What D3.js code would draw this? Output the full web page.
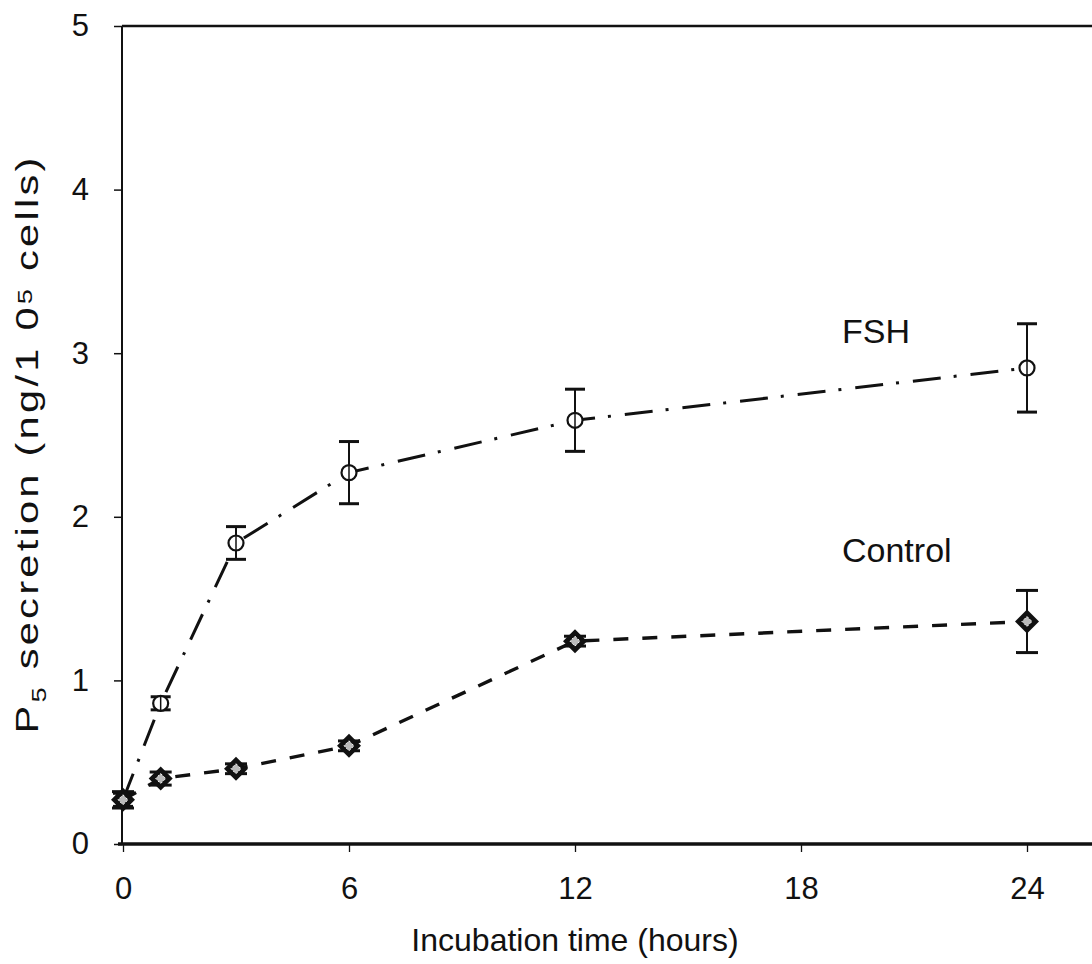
<!DOCTYPE html>
<html>
<head>
<meta charset="utf-8">
<script src="https://cdn.jsdelivr.net/npm/d3@7"></script>
<style>
  html, body { margin: 0; padding: 0; background: #fff; }
  svg { display: block; }
  text { font-family: "Liberation Sans", Arial, Helvetica, sans-serif; fill: #111; }
</style>
</head>
<body>
<svg id="chart" width="1092" height="964"></svg>
<script>
// ---- data ----
const times = [0, 1, 3, 6, 12, 24];
const fshMean = [0.27, 0.86, 1.84, 2.27, 2.59, 2.91];
const fshErr = [0.04, 0.04, 0.10, 0.19, 0.19, 0.27];
const ctrlMean = [0.27, 0.40, 0.46, 0.60, 1.24, 1.36];
const ctrlErr = [0.05, 0.04, 0.03, 0.03, 0.03, 0.19];
const xTicks = [0, 6, 12, 18, 24];
const yTicks = [0, 1, 2, 3, 4, 5];
const seriesLabels = ["FSH", "Control"];
const xTitle = "Incubation time (hours)";

(function () {
// ---- layout ----
const svg = d3.select("#chart");
const W = 1092, H = 964;
const x = d3.scaleLinear().domain([0, 24]).range([123, 1027]);
const y = d3.scaleLinear().domain([0, 5]).range([844, 26]);
const pLeft = 122, pTop = 26, pBottom = 844, pRight = W + 5;
const FONT = "'Liberation Sans', Arial, sans-serif";

// frame
svg.append("line").attr("x1", pLeft).attr("x2", pRight).attr("y1", pTop).attr("y2", pTop)
  .attr("stroke", "#111").attr("stroke-width", 2.5);
svg.append("line").attr("x1", pLeft).attr("x2", pLeft).attr("y1", pTop).attr("y2", pBottom)
  .attr("stroke", "#111").attr("stroke-width", 2);
svg.append("line").attr("x1", pLeft - 4).attr("x2", pRight).attr("y1", pBottom).attr("y2", pBottom)
  .attr("stroke", "#111").attr("stroke-width", 3.5);

// y axis
const yAxis = svg.append("g").attr("transform", `translate(${pLeft},0)`)
  .call(d3.axisLeft(y).tickValues(yTicks).tickSize(8).tickSizeOuter(0).tickPadding(25).tickFormat(d3.format("d")));
yAxis.select(".domain").remove();
yAxis.selectAll(".tick line").attr("stroke", "#111").attr("stroke-width", 1.5);
yAxis.selectAll(".tick text").attr("font-size", 31).attr("fill", "#111").style("font-family", FONT);

// x axis
const xAxis = svg.append("g").attr("transform", `translate(0,${pBottom})`)
  .call(d3.axisBottom(x).tickValues(xTicks).tickSize(8).tickSizeOuter(0).tickFormat(d3.format("d")));
xAxis.select(".domain").remove();
xAxis.selectAll(".tick line").attr("stroke", "#111").attr("stroke-width", 1.3);
xAxis.selectAll(".tick text").attr("font-size", 31).attr("fill", "#111")
  .attr("y", 55).attr("dy", 0).style("font-family", FONT);

// axis titles
svg.append("text").attr("x", 575).attr("y", 951).attr("text-anchor", "middle")
  .attr("font-size", 32).text(xTitle);

const yt = svg.append("text").attr("transform", "translate(38,444) rotate(-90) scale(1.3,1)")
  .attr("text-anchor", "middle").attr("font-size", 32).attr("letter-spacing", 2.5);
yt.append("tspan").text("P");
yt.append("tspan").attr("font-size", 21).attr("dy", 8).text("5");
yt.append("tspan").attr("dy", -8).text(" secretion (ng/1 0");
yt.append("tspan").attr("font-size", 21).attr("dy", -6).text("5");
yt.append("tspan").attr("dy", 6).text(" cells)");

// ---- series ----
const fsh = times.map((t, i) => ({ t, m: fshMean[i], e: fshErr[i] }));
const ctrl = times.map((t, i) => ({ t, m: ctrlMean[i], e: ctrlErr[i] }));
const line = d3.line().x(d => x(d.t)).y(d => y(d.m));

svg.append("path").datum(ctrl).attr("d", line).attr("fill", "none")
  .attr("stroke", "#111").attr("stroke-width", 3.4).attr("stroke-dasharray", "15,14");
svg.append("path").datum(fsh).attr("d", line).attr("fill", "none")
  .attr("stroke", "#111").attr("stroke-width", 3).attr("stroke-dasharray", "28,13,3,14");

function errorBars(data, cap) {
  const g = svg.append("g").attr("stroke", "#111").attr("stroke-width", 2);
  g.selectAll(".v").data(data).join("line")
    .attr("x1", d => x(d.t)).attr("x2", d => x(d.t))
    .attr("y1", d => y(d.m + d.e)).attr("y2", d => y(d.m - d.e));
  g.selectAll(".top").data(data).join("line")
    .attr("x1", d => x(d.t) - cap).attr("x2", d => x(d.t) + cap)
    .attr("y1", d => y(d.m + d.e)).attr("y2", d => y(d.m + d.e)).attr("stroke-width", 3);
  g.selectAll(".bot").data(data).join("line")
    .attr("x1", d => x(d.t) - cap).attr("x2", d => x(d.t) + cap)
    .attr("y1", d => y(d.m - d.e)).attr("y2", d => y(d.m - d.e)).attr("stroke-width", 3);
}
errorBars(fsh, 10);

// FSH circles
svg.append("g").selectAll("circle").data(fsh).join("circle")
  .attr("cx", d => x(d.t)).attr("cy", d => y(d.m)).attr("r", 7.5)
  .attr("fill", "#fff").attr("stroke", "#111").attr("stroke-width", 2.2);
svg.append("g").selectAll("line").data(fsh).join("line")
  .attr("x1", d => x(d.t)).attr("x2", d => x(d.t))
  .attr("y1", d => y(d.m) - 7.5).attr("y2", d => y(d.m) + 7.5)
  .attr("stroke", "#111").attr("stroke-width", 1.5);

errorBars(ctrl, 11);

// control diamonds
const dg = svg.append("g");
dg.selectAll("path.d").data(ctrl).join("path")
  .attr("d", d => { const cx = x(d.t), cy = y(d.m), r = 12; return `M${cx},${cy - r}L${cx + r},${cy}L${cx},${cy + r}L${cx - r},${cy}Z`; })
  .attr("fill", "#111");
dg.selectAll("path.i").data(ctrl).join("path")
  .attr("d", d => { const cx = x(d.t), cy = y(d.m), r = 5; return `M${cx},${cy - r}L${cx + r},${cy}L${cx},${cy + r}L${cx - r},${cy}Z`; })
  .attr("fill", "#bbb").attr("stroke", "#fff").attr("stroke-width", 1).attr("stroke-dasharray", "2,2");

// series labels
svg.append("text").attr("x", 842).attr("y", 343).attr("font-size", 34).text(seriesLabels[0]);
svg.append("text").attr("x", 842).attr("y", 562).attr("font-size", 34).text(seriesLabels[1]);
})();
</script>
</body>
</html>
